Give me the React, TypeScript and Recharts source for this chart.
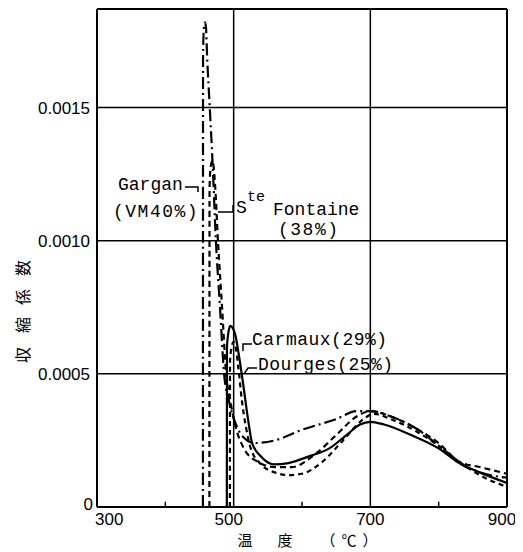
import React from "react";
import { LineChart, Line, XAxis, YAxis, CartesianGrid, ReferenceLine } from "recharts";

const xTicks = [300, 500, 700, 900];
const minorXTicks = [400, 600, 800];
const yTicks = [0, 0.0005, 0.001, 0.0015];
const yTickLabels = ["0", "0.0005", "0.0010", "0.0015"];

const garganT = [455.0, 455.2, 456.5, 458, 459.5, 461, 465, 469, 474, 480, 486, 493, 505, 515, 530, 560, 600, 650, 680, 700, 730, 770, 800, 830, 860, 900];
const garganV = [0, 0.0017, 0.0018, 0.00182, 0.0018, 0.0017, 0.0015, 0.0013, 0.001, 0.00075, 0.0005, 0.0004, 0.0003, 0.00026, 0.00024, 0.00025, 0.00029, 0.00033, 0.00036, 0.00036, 0.00034, 0.00029, 0.00023, 0.000165, 0.00013, 0.00011];

const fontaineT = [464.5, 464.7, 466.5, 469, 471, 473, 477, 483, 489, 495, 503, 515, 535, 560, 585, 620, 650, 680, 700, 730, 770, 800, 830, 860, 900];
const fontaineV = [0, 0.0012, 0.00128, 0.0013, 0.00127, 0.0012, 0.001, 0.00075, 0.0005, 0.0004, 0.0003, 0.00022, 0.00017, 0.00015, 0.00015, 0.0002, 0.00027, 0.00034, 0.00036, 0.00034, 0.00029, 0.00024, 0.00017, 0.00015, 0.000125];

const carmauxT = [490, 490.2, 492, 495, 499, 503, 507, 514, 521, 527, 540, 560, 580, 610, 640, 665, 685, 700, 720, 760, 800, 830, 860, 900];
const carmauxV = [0, 0.0006, 0.00065, 0.00068, 0.00067, 0.00064, 0.00058, 0.00046, 0.00033, 0.00024, 0.00019, 0.00016, 0.000165, 0.00019, 0.00022, 0.00027, 0.00031, 0.00032, 0.00031, 0.00027, 0.00022, 0.000165, 0.00013, 0.00009];

const dourgesT = [494.5, 494.7, 497, 500, 503, 507, 512, 518, 525, 540, 560, 580, 600, 630, 660, 690, 705, 730, 770, 800, 830, 860, 900];
const dourgesV = [0, 0.00055, 0.0006, 0.00062, 0.0006, 0.00052, 0.0004, 0.0003, 0.00022, 0.00016, 0.00013, 0.00012, 0.000125, 0.00017, 0.00025, 0.00033, 0.00035, 0.00033, 0.00028, 0.00023, 0.00017, 0.00012, 0.000075];

const build = (t: number[], v: number[]) => t.map((x, i) => ({ t: x, v: v[i] }));
const garganData = build(garganT, garganV);
const fontaineData = build(fontaineT, fontaineV);
const carmauxData = build(carmauxT, carmauxV);
const dourgesData = build(dourgesT, dourgesV);

const Y_MAX = 0.00187;
const W = 515;
const H = 544;

const XTick = (props: any) => {
  const { x, y, payload } = props;
  const v = payload.value;
  let anchor: "start" | "middle" | "end" = "middle";
  let dx = 0;
  if (v === 300) { anchor = "start"; dx = -2; }
  if (v === 500) dx = -5;
  if (v === 900) dx = -5;
  return (
    <text x={x + dx} y={y + 18} textAnchor={anchor} fontFamily="Liberation Sans" fontSize={17} fill="#000">
      {v}
    </text>
  );
};

const YTick = (props: any) => {
  const { x, y, payload } = props;
  const idx = yTicks.indexOf(payload.value);
  const label = idx >= 0 ? yTickLabels[idx] : String(payload.value);
  const isZero = payload.value === 0;
  return (
    <text x={isZero ? x + 3 : x} y={isZero ? y + 3 : y + 6} textAnchor="end" fontFamily="Liberation Sans" fontSize={17} fill="#000">
      {label}
    </text>
  );
};

const mono = "Liberation Mono";

export default function App() {
  return (
    <div style={{ position: "relative", width: W, height: H }}>
      <LineChart width={W} height={H} data={garganData} margin={{ top: 1, right: 16, bottom: 0, left: 0 }}>
        <CartesianGrid stroke="#000" strokeWidth={1.5} strokeDasharray="" />
        <XAxis
          type="number"
          dataKey="t"
          domain={[300, 900]}
          ticks={xTicks}
          height={45}
          tickLine={false}
          tickSize={0}
          tickMargin={0}
          axisLine={{ stroke: "#000", strokeWidth: 2 }}
          tick={<XTick />}
          interval={0}
        />
        <YAxis
          type="number"
          domain={[0, Y_MAX]}
          ticks={yTicks}
          width={89}
          tickLine={false}
          tickSize={0}
          tickMargin={7}
          axisLine={{ stroke: "#000", strokeWidth: 2 }}
          tick={<YTick />}
          interval={0}
          allowDataOverflow
        />
        <ReferenceLine y={Y_MAX} stroke="#000" strokeWidth={2} />
        <ReferenceLine x={900} stroke="#000" strokeWidth={2} />
        {minorXTicks.map((m) => (
          <ReferenceLine key={m} segment={[{ x: m, y: 0 }, { x: m, y: 0.00002 }]} stroke="#000" strokeWidth={1.5} />
        ))}
        <Line data={garganData} dataKey="v" type="monotone" stroke="#000" strokeWidth={2.2} strokeDasharray="12 4 2 4" dot={false} isAnimationActive={false} />
        <Line data={fontaineData} dataKey="v" type="monotone" stroke="#000" strokeWidth={2.2} strokeDasharray="6 4" dot={false} isAnimationActive={false} />
        <Line data={carmauxData} dataKey="v" type="monotone" stroke="#000" strokeWidth={2.2} dot={false} isAnimationActive={false} />
        <Line data={dourgesData} dataKey="v" type="monotone" stroke="#000" strokeWidth={2.2} strokeDasharray="5 4" dot={false} isAnimationActive={false} />
      </LineChart>
      <svg width={W} height={H} style={{ position: "absolute", left: 0, top: 0, pointerEvents: "none" }}>
        <g fill="#000" fontFamily={mono} fontSize={18}>
          <text x={110} y={182}>Gargan</text>
          <path d="M177 179 L190 179 L190 184" stroke="#000" strokeWidth={1.5} fill="none" />
          <text x={105} y={209} letterSpacing={1.5}>(VM40%)</text>

          <path d="M210 204 L225 204 L225 197" stroke="#000" strokeWidth={1.5} fill="none" />
          <text x={228} y={205}>S</text>
          <text x={239} y={193} fontSize={15}>te</text>
          <text x={265} y={207}>Fontaine</text>
          <text x={270} y={227} letterSpacing={1.5}>(38%)</text>

          <path d="M235 343 L235 336 L244 336" stroke="#000" strokeWidth={1.5} fill="none" />
          <text x={244} y={337} letterSpacing={0.5}>Carmaux(29%)</text>

          <path d="M236 366 L240 360 L249 360" stroke="#000" strokeWidth={1.5} fill="none" />
          <text x={250} y={362} letterSpacing={0.5}>Dourges(25%)</text>
        </g>
        <g fill="#000" fontFamily="Noto Sans CJK JP" fontSize={16}>
          <text x={14} y={347} textAnchor="middle" dominantBaseline="central" transform="rotate(-90 14 347)">収</text>
          <text x={14} y={317} textAnchor="middle" dominantBaseline="central" transform="rotate(-90 14 317)">縮</text>
          <text x={14} y={289} textAnchor="middle" dominantBaseline="central" transform="rotate(-90 14 289)">係</text>
          <text x={14} y={260} textAnchor="middle" dominantBaseline="central" transform="rotate(-90 14 260)">数</text>
        </g>
        <g fill="#000" fontFamily="Noto Sans CJK JP" fontSize={15}>
          <text x={237} y={538} textAnchor="middle">温</text>
          <text x={277} y={538} textAnchor="middle">度</text>
          <text x={320} y={538} textAnchor="middle">（</text>
          <text x={341} y={538} textAnchor="middle">℃</text>
          <text x={362} y={538} textAnchor="middle">）</text>
        </g>
      </svg>
    </div>
  );
}
